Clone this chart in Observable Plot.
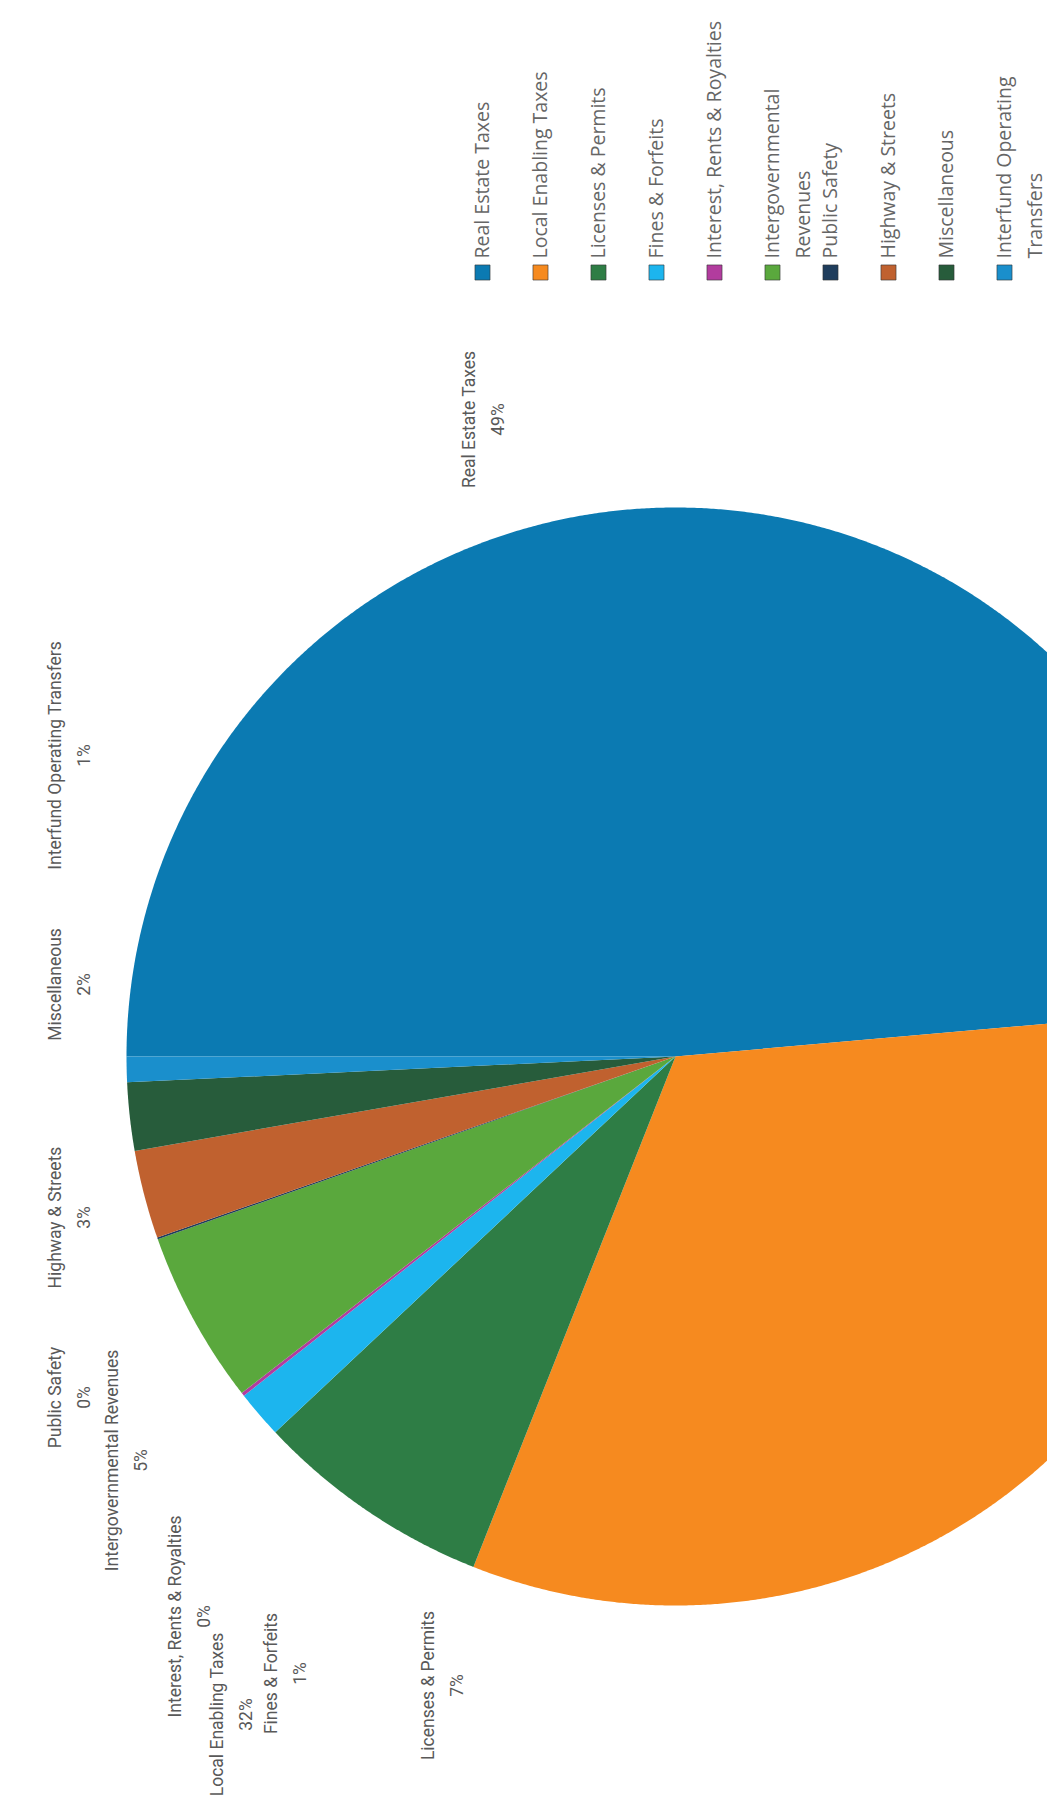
<!DOCTYPE html>
<html><head><meta charset="utf-8">
<script src="https://cdn.jsdelivr.net/npm/d3@7"></script>
<script src="https://cdn.jsdelivr.net/npm/@observablehq/plot@0.6"></script>
<style>
html,body{margin:0;padding:0;background:#fff;overflow:hidden;}
#chart svg{display:block;}
</style></head>
<body><div id="chart"></div>
<script>
// ---- data ----
const categories = ["Real Estate Taxes", "Local Enabling Taxes", "Licenses & Permits", "Fines & Forfeits",
  "Interest, Rents & Royalties", "Intergovernmental Revenues", "Public Safety", "Highway & Streets",
  "Miscellaneous", "Interfund Operating Transfers"];
const shares = [48.6, 32.4, 7.0, 1.4, 0.1, 5.1, 0.05, 2.6, 2.0, 0.75];
const colors = ["#0b7ab2", "#f68a1f", "#2e7d45", "#1cb5ee", "#b23c9e", "#5aa83d", "#1f3d5c", "#c0612f", "#275c3b", "#1a8fcc"];
const legendLines = [["Real Estate Taxes"], ["Local Enabling Taxes"], ["Licenses & Permits"], ["Fines & Forfeits"],
  ["Interest, Rents & Royalties"], ["Intergovernmental", "Revenues"], ["Public Safety"], ["Highway & Streets"],
  ["Miscellaneous"], ["Interfund Operating", "Transfers"]];

// ---- layout ----
const W = 1047, H = 1801;
const cx = 675, cy = 1056, R = 549;
const labelPos = [[480, 419], [228, 1714], [439, 1685], [282, 1673], [186, 1616], [123, 1460],
  [66, 1397], [66, 1217], [66, 984], [66, 755]];
const legendX0 = 482, legendStep = 58, legendSwatchY = 272, legendTextY = 258, legendLineGap = 31;

// ---- build ----
const total = d3.sum(shares);
const arcs = d3.pie().sort(null).value(d => d)(shares);
const slicePts = [];
arcs.forEach((a, i) => {
  const n = Math.max(2, Math.ceil((a.endAngle - a.startAngle) / (Math.PI / 720)));
  slicePts.push({cat: categories[i], x: cx, y: cy});
  for (let k = 0; k <= n; k++) {
    const t = Math.PI + a.startAngle + (a.endAngle - a.startAngle) * k / n;
    slicePts.push({cat: categories[i], x: cx + R * Math.cos(t), y: cy + R * Math.sin(t)});
  }
});
const fmt = d3.format(".0%");
const labels = categories.map((c, i) => ({
  text: c + "\n" + fmt(shares[i] / total), x: labelPos[i][0], y: labelPos[i][1]
}));
const legendSw = categories.map((c, i) => ({cat: c, x: legendX0 + i * legendStep, y: legendSwatchY}));
const legendText = legendLines.flatMap((lines, i) => lines.map((t, j) => ({
  text: t, x: legendX0 + i * legendStep + j * legendLineGap, y: legendTextY
})));

const chart = Plot.plot({
  width: W, height: H, margin: 0,
  x: {domain: [0, W], range: [0, W], axis: null},
  y: {domain: [0, H], range: [0, H], axis: null},
  color: {domain: categories, range: colors},
  style: {fontFamily: "Roboto, sans-serif", background: "white"},
  marks: [
    Plot.line(slicePts, {x: "x", y: "y", z: "cat", fill: "cat", stroke: "none", curve: "linear-closed", clip: true}),
    Plot.text(labels, {x: "x", y: "y", text: "text", rotate: -90, fontSize: 17.5, fill: "#595959",
      lineHeight: 1.65, textAnchor: "middle"}),
    Plot.dot(legendSw, {x: "x", y: "y", fill: "cat", symbol: "square", r: 8.5, stroke: "#333", strokeWidth: 0.6}),
    Plot.text(legendText, {x: "x", y: "y", text: "text", rotate: -90, textAnchor: "start", fontSize: 19.5,
      fill: "#666", fontFamily: "Open Sans, sans-serif"})
  ]
});
document.getElementById("chart").append(chart);
</script>
</body></html>
